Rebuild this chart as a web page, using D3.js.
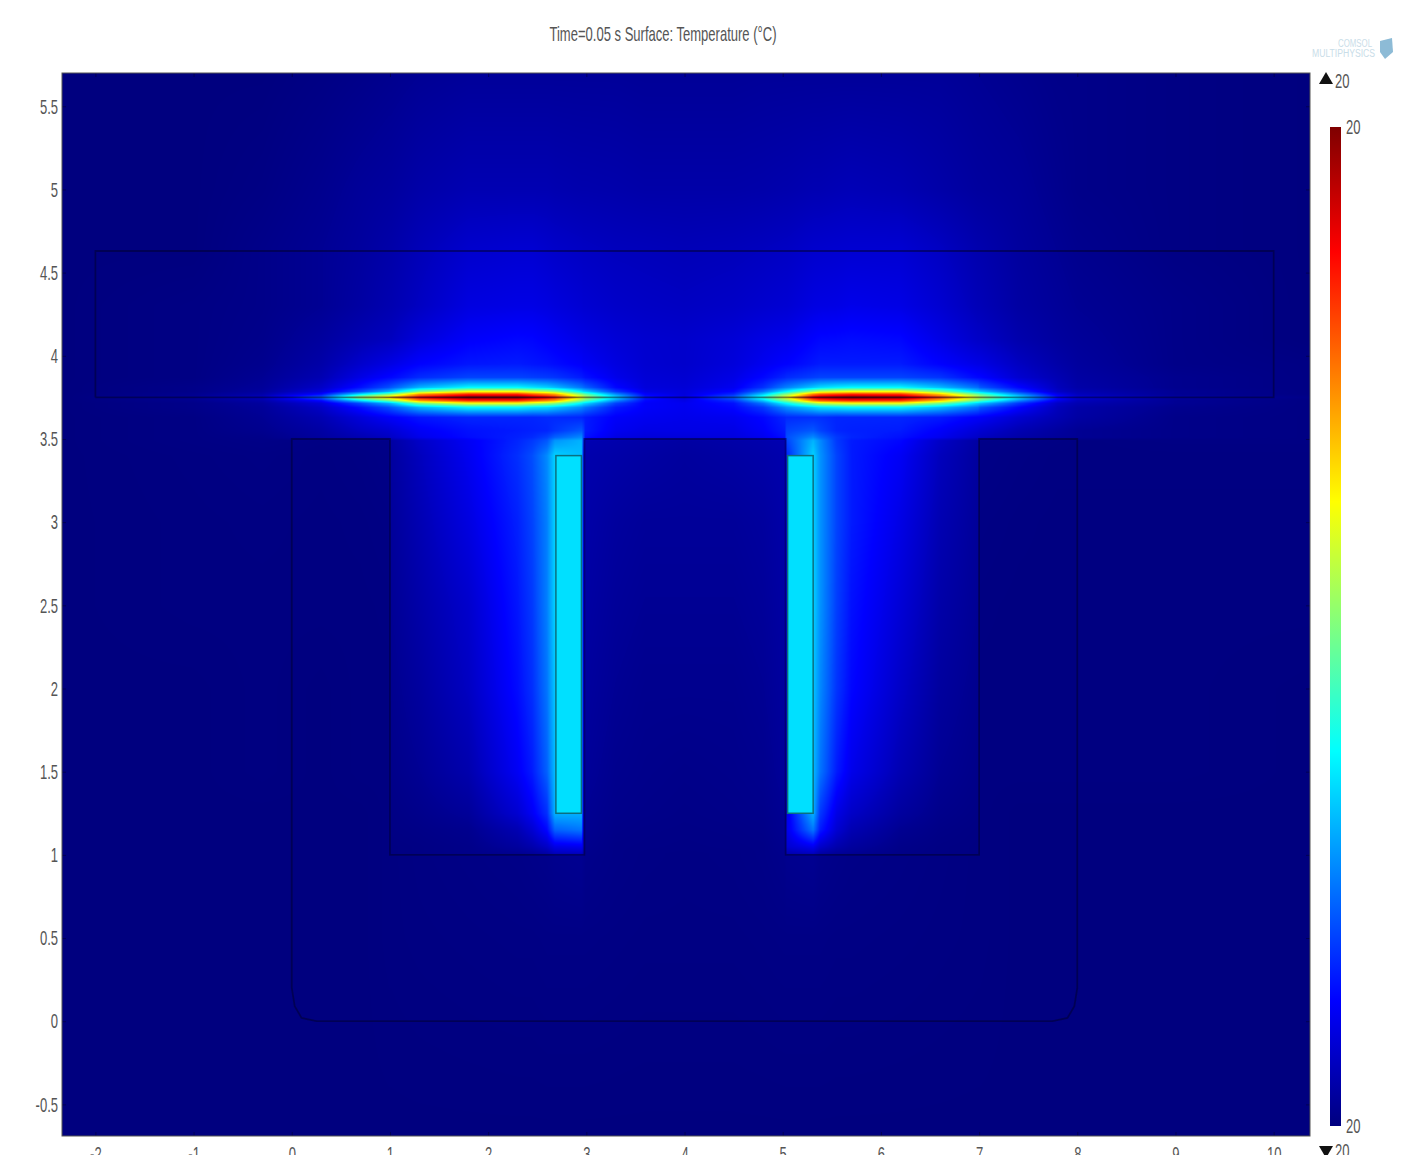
<!DOCTYPE html>
<html>
<head>
<meta charset="utf-8">
<script src="https://cdn.jsdelivr.net/npm/d3@7"></script>
<style>
html, body { margin: 0; padding: 0; background: #fff; overflow: hidden; }
svg { display: block; }
text { font-family: "Liberation Sans", sans-serif; }
</style>
</head>
<body>
<div id="chart"></div>
<script>
// Chart values
const titleText = "Time=0.05 s Surface: Temperature (°C)";
const xTicks = [-2, -1, 0, 1, 2, 3, 4, 5, 6, 7, 8, 9, 10];
const yTicks = [-0.5, 0, 0.5, 1, 1.5, 2, 2.5, 3, 3.5, 4, 4.5, 5, 5.5];
const xExtent = [-2.34, 10.37];
const yExtent = [-0.69, 5.7];

// Geometry in model units
const yokeOutline = [[0.25, 0], [7.75, 0], [7.9, 0.02], [7.97, 0.09], [8, 0.2], [8, 3.5], [7, 3.5], [7, 1], [5.03, 1], [5.03, 3.5],
    [2.98, 3.5], [2.98, 1], [1, 1], [1, 3.5], [0, 3.5], [0, 0.2], [0.03, 0.09], [0.1, 0.02], [0.25, 0]];
const barOutline = [[-2, 3.75], [10, 3.75], [10, 4.63], [-2, 4.63], [-2, 3.75]];
const coilRects = [[2.69, 1.25, 2.95, 3.4], [5.05, 1.25, 5.31, 3.4]];

// Colour table, position along the range in percent
const colorPositions = [0, 12.5, 37.5, 62.5, 87.5, 100];
const colorValues = ["#00007f", "#0000ff", "#00ffff", "#ffff00", "#ff0000", "#7f0000"];
const colorbarTicks = [0, 100];
const coilLevel = 34.5;

// Surface, percent of the colour range
const fieldX = [-2.34, -1, -0.3, 0.3, 0.7, 0.99, 1.01, 1.3, 1.8, 2.3, 2.45, 2.6, 2.68, 2.95, 2.97, 2.99, 3.3, 3.6, 4, 4.5, 4.8, 5.02, 5.04, 5.31, 5.38, 5.55, 5.7, 6.2, 6.6, 6.99, 7.01, 7.4, 7.8, 8, 9, 10.37];
const fieldY = [5.7, 5, 4.65, 4.3, 4.1, 3.95, 3.87, 3.81, 3.785, 3.77, 3.75, 3.73, 3.715, 3.69, 3.63, 3.55, 3.51, 3.49, 3.4, 3, 2.5, 2, 1.5, 1.25, 1.15, 1.05, 1.01, 0.99, 0.5, -0.69];
const fieldValues = [
    [0,0,0,.5,1,1.5,1.5,2,2.5,2.5,2.5,2.5,2.5,2.5,2.5,2.5,2.5,2.3,2.3,2.3,2.5,2.5,2.5,2.5,2.5,2.5,2.5,2.5,2.5,2,2,1.5,1,1,.5,0],
    [0,0,.5,1.5,2.5,3,3,4,5,5,5,5,4.8,4.5,4.5,4.5,4.3,4,4,4,4.2,4.5,4.5,5,5,5.3,5.5,5,4,3,3,2.5,1.5,1,.5,0],
    [0,0,1,2,3,4,4,5.5,7.5,8,8,7.5,7.2,6.6,6.5,6.5,6,5.8,5.5,5.8,6.2,6.6,6.6,7.5,7.6,7.8,8,8,6.5,4.5,4.5,3,2,1.5,.5,0],
    [0,.5,1,2,3.5,4.8,4.8,6.5,9.5,10,10,9.6,9.2,8.2,8,8,7.2,6.8,6.5,7,7.7,8.2,8.2,9.6,9.8,10,10.5,10,8,5.5,5.5,3.5,2.5,2,1,0],
    [0,.5,1.2,3,5,6.2,6.2,9,12,13,12.8,12,11.5,10,10,9.8,8.5,7.8,7.5,8.5,9.8,10.5,10.5,12.5,13,13.2,13.5,13,10,7,7,4.5,3,2.5,1,0],
    [0,.5,1.5,4,7.5,9.8,10,12.5,14.5,15,14.5,14,13.5,12,11.5,11.5,9.5,8,7.5,9,11,12.5,12.5,14.5,15,15,15,15,12.5,10,10,6.5,4,3,1,.5],
    [0,.5,2,5,10,13,13,16.5,19,19,18.5,18,17.5,15,14.5,14,10.5,8.5,8,10,13,16,16.5,18.5,19,19,19,19,17.5,13,13,8,5,3.5,1.5,.5],
    [0,1,2.5,7,14,20,21,30,37,37,35,33,31,24,23,22,13,9,8.5,11,17,24.5,25,32,34,36,37,37,31,23,21,13,6,4,1.5,.5],
    [0,1,3,9,20,30,31,50,62,62,58,55,52,36,34,33,18,10,9,13,24,36,37,53,57,60,62,62,50,33,32,18,7,5,2,.5],
    [0,1.5,4,13,34,48,50,72,83,83,78,74,71,50,48,46,26,12,9,16,32,49,50,74,78,81,83,82,68,47,45,26,10,6,2,.5],
    [0,2,6,22,55,68,70,88,100,100,95,90,86,62,60,57,35,15,10,22,42,61,62,90,94,98,100,98,82,58,56,36,14,8,3,1],
    [0,1.5,4,13,34,48,50,72,83,83,78,74,71,50,48,46,26,13,10,17,32,49,50,74,78,81,83,82,68,47,45,26,10,6,2,.5],
    [0,1,3,9,20,30,31,50,62,62,58,55,52,37,35,34,19,12,11,14,24,37,38,53,57,60,62,62,50,33,32,18,7,5,2,.5],
    [0,1,2.5,7,14,20,21,30,37,37,35,34,32,26,25,24,15,12,11,13,18,26,27,33,35,36,37,37,31,23,21,13,6,4,1.5,.5],
    [0,.5,2,5,9,12,12,14.5,16,16,16,16.5,16.5,16,15.5,15,12,11,10.5,11,13,16,16.5,17,17,16,16,16,15,12,12,8,5,3.5,1,.5],
    [0,.5,1.5,3.5,6.5,8,8.5,11.5,14,15,15.5,16,17.5,21,19,15,11,10,10,10,12,15,19,21,19,16,15.5,15,12,8.5,8,5,3,2,1,.5],
    [0,.5,1,3,5,6.5,7,10.5,13.5,15.5,16.5,19,22,26,20,14,10,9,9,9.5,11,14,20,26,23,18,16,14,11,7,6.5,4,2.5,2,1,.5],
    [0,.5,.8,.5,.8,1,3.5,7,11.5,16,18,21,27,30,19,5,4.5,4,3.5,4,4.5,5,19,30,26,18,15,13,7,3.5,1,.8,.5,.3,.5,.5],
    [0,.3,.5,.3,.5,.8,3,6,11,17,20,26,33,31,16,4.5,4,3.5,3,3.5,4,4.5,16,33,27,19,15,11.5,6,3,.8,.5,.3,.3,.3,.3],
    [0,.2,.3,.2,.3,.5,2.5,5,9.5,15.5,19,25,33,31,14,4,3,2.5,2.5,2.5,3,4,14,33,27,19,15,10,5,2.5,.5,.3,.2,.2,.2,.2],
    [0,.2,.2,.2,.2,.3,2,4,7.5,14.5,18,25,33,31,13,3.5,2.5,2,2,2,2.5,3.5,13,33,27,18.5,14,8.5,4,2,.3,.2,.2,.2,.2,.2],
    [0,0,.2,0,.2,.2,1.5,3,6.5,13.5,17,24,32,31,12,3,2,1.5,1.5,1.5,2,3,12,32,26,17.5,13,7,3,1.5,.2,.2,.2,.2,.2,0],
    [0,0,.2,0,.2,.2,1,2,4.5,11.5,15,22,31,30,11,2.5,1.5,1.2,1,1.2,1.5,2.5,11,31,24,15,10.5,5,2,1,.2,.2,.2,.2,.2,0],
    [0,0,0,0,0,.2,.6,1.2,2.5,8,11.5,17,30,30,10,2,1.2,1,.8,1,1.2,2,10,30,18,10,7,3,1.2,.6,.2,0,0,0,0,0],
    [0,0,0,0,0,.2,.5,.8,1.5,5,8,13,22,24,10,1.8,1,.8,.7,.8,1,1.8,10,24,15,8,5,1.8,.8,.4,.2,0,0,0,0,0],
    [0,0,0,0,0,.2,.3,.5,1,3,4.5,7,10,11,8,1.5,.8,.7,.6,.7,.8,1.5,8,11,7.5,4.5,3,1,.5,.3,.2,0,0,0,0,0],
    [0,0,0,0,0,.2,.3,.5,1,1.8,2.5,4,6,6.5,5,1.3,.8,.6,.5,.6,.8,1.3,5,6.5,4,2.5,2,.8,.5,.3,.2,0,0,0,0,0],
    [0,0,0,0,0,.2,.2,.4,.6,.8,1,1.2,1.5,1.8,1.5,1.2,.8,.6,.5,.6,.8,1.2,1.5,1.8,1.3,1,.8,.6,.4,.2,.2,0,0,0,0,0],
    [0,0,0,0,0,.2,.2,.3,.4,.5,.5,.6,.6,.6,.6,.6,.5,.4,.4,.4,.5,.6,.6,.6,.6,.5,.5,.4,.3,.2,.2,0,0,0,0,0],
    [0,0,0,0,0,0,0,0,0,0,0,0,0,0,0,0,0,0,0,0,0,0,0,0,0,0,0,0,0,0,0,0,0,0,0,0]
];

function draw() {
    // Dimensions
    const dimensions = { width: 1424, height: 1155, left: 62, right: 1310, top: 73, bottom: 1136 };
    const bar = { left: 1330, right: 1341, top: 127, bottom: 1126 };
    const textColor = "#555";

    const svg = d3.select("#chart")
        .append("svg")
        .attr("width", dimensions.width)
        .attr("height", dimensions.height);

    // The reference lettering is tall and condensed, squeeze the glyphs
    const squeeze = selection => selection.each(function() {
        d3.select(this)
            .attr("textLength", this.getComputedTextLength() * 0.62)
            .attr("lengthAdjust", "spacingAndGlyphs");
    });

    // Scales
    const xScale = d3.scaleLinear().domain(xExtent).range([dimensions.left, dimensions.right]);
    const yScale = d3.scaleLinear().domain(yExtent).range([dimensions.bottom, dimensions.top]);
    const colorScale = d3.scaleLinear().domain(colorPositions).range(colorValues).clamp(true);
    const barScale = d3.scaleLinear().domain([0, 100]).range([bar.bottom, bar.top]);

    // Surface goes to an offscreen canvas, one pixel per screen pixel
    const plotW = dimensions.right - dimensions.left;
    const plotH = dimensions.bottom - dimensions.top;
    const canvas = document.createElement("canvas");
    canvas.width = plotW;
    canvas.height = plotH;
    const ctx = canvas.getContext("2d");
    const image = ctx.createImageData(plotW, plotH);

    const lut = d3.range(0, 1001).map(i => d3.rgb(colorScale(i / 10)));
    const cols = d3.range(plotW).map(i => {
        const xv = xScale.invert(dimensions.left + i + 0.5);
        const k = Math.min(fieldX.length - 2, Math.max(0, d3.bisectRight(fieldX, xv) - 1));
        return { k, t: (xv - fieldX[k]) / (fieldX[k + 1] - fieldX[k]) };
    });
    const descY = fieldY.map(d => -d);
    for (let j = 0; j < plotH; j++) {
        const yv = yScale.invert(dimensions.top + j + 0.5);
        const r = Math.min(fieldY.length - 2, Math.max(0, d3.bisectRight(descY, -yv) - 1));
        const u = (fieldY[r] - yv) / (fieldY[r] - fieldY[r + 1]);
        const rowA = fieldValues[r];
        const rowB = fieldValues[r + 1];
        for (let i = 0; i < plotW; i++) {
            const { k, t } = cols[i];
            const top = rowA[k] + (rowA[k + 1] - rowA[k]) * t;
            const low = rowB[k] + (rowB[k + 1] - rowB[k]) * t;
            const c = lut[Math.round((top + (low - top) * u) * 10)];
            const p = (j * plotW + i) * 4;
            image.data[p] = c.r;
            image.data[p + 1] = c.g;
            image.data[p + 2] = c.b;
            image.data[p + 3] = 255;
        }
    }
    ctx.putImageData(image, 0, 0);

    svg.append("image")
        .attr("x", dimensions.left)
        .attr("y", dimensions.top)
        .attr("width", plotW)
        .attr("height", plotH)
        .attr("href", canvas.toDataURL("image/png"));

    const defs = svg.append("defs");
    defs.append("filter")
        .attr("id", "soft")
        .append("feGaussianBlur")
        .attr("stdDeviation", 0.6);

    // Coils
    svg.selectAll(".coil")
        .data(coilRects)
        .join("rect")
            .attr("class", "coil")
            .attr("x", d => xScale(d[0]))
            .attr("y", d => yScale(d[3]))
            .attr("width", d => xScale(d[2]) - xScale(d[0]))
            .attr("height", d => yScale(d[1]) - yScale(d[3]))
            .attr("fill", colorScale(coilLevel))
            .attr("stroke", "#0b6f80")
            .attr("stroke-width", 1.5);

    // Model edges
    const line = d3.line().x(d => xScale(d[0])).y(d => yScale(d[1]));
    svg.selectAll(".edge")
        .data([yokeOutline, barOutline])
        .join("path")
            .attr("class", "edge")
            .attr("d", line)
            .attr("fill", "none")
            .attr("stroke", "#00002e")
            .attr("stroke-opacity", 0.5)
            .attr("stroke-width", 1.8)
            .attr("filter", "url(#soft)");

    // Axes
    const styleAxis = g => {
        g.select(".domain").remove();
        g.selectAll(".tick line").attr("stroke", "#00002e").attr("stroke-opacity", 0.5);
        g.selectAll(".tick text")
            .attr("fill", textColor)
            .attr("font-size", 21)
            .attr("font-family", null)
            .call(squeeze);
    };
    svg.append("g")
        .attr("transform", `translate(0, ${dimensions.bottom})`)
        .call(d3.axisBottom(xScale).tickValues(xTicks).tickFormat(d => d).tickSize(-4).tickPadding(10))
        .call(styleAxis);
    svg.append("g")
        .attr("transform", `translate(${dimensions.left}, 0)`)
        .call(d3.axisLeft(yScale).tickValues(yTicks).tickFormat(d => d).tickSize(-4).tickPadding(4))
        .call(styleAxis);
    svg.append("g")
        .attr("transform", `translate(0, ${dimensions.top})`)
        .call(d3.axisTop(xScale).tickValues(xTicks).tickFormat(() => "").tickSize(-4))
        .call(g => { g.select(".domain").remove(); g.selectAll(".tick line").attr("stroke", "#00002e").attr("stroke-opacity", 0.5); });
    svg.append("g")
        .attr("transform", `translate(${dimensions.right}, 0)`)
        .call(d3.axisRight(yScale).tickValues(yTicks).tickFormat(() => "").tickSize(-4))
        .call(g => { g.select(".domain").remove(); g.selectAll(".tick line").attr("stroke", "#00002e").attr("stroke-opacity", 0.5); });

    svg.append("rect")
        .attr("x", dimensions.left)
        .attr("y", dimensions.top)
        .attr("width", plotW)
        .attr("height", plotH)
        .attr("fill", "none")
        .attr("stroke", "#555")
        .attr("stroke-width", 1);

    // Title
    svg.append("text")
        .attr("x", 663)
        .attr("y", 41)
        .attr("text-anchor", "middle")
        .attr("font-size", 21)
        .attr("fill", textColor)
        .text(titleText)
        .call(squeeze);

    // Colour bar
    const gradient = defs.append("linearGradient")
        .attr("id", "bar-gradient")
        .attr("x1", 0).attr("x2", 0).attr("y1", 1).attr("y2", 0);
    gradient.selectAll("stop")
        .data(colorPositions)
        .join("stop")
            .attr("offset", d => d + "%")
            .attr("stop-color", d => colorScale(d));

    svg.append("rect")
        .attr("x", bar.left)
        .attr("y", bar.top)
        .attr("width", bar.right - bar.left)
        .attr("height", bar.bottom - bar.top)
        .attr("fill", "url(#bar-gradient)");

    svg.append("g")
        .attr("transform", `translate(${bar.right}, 0)`)
        .call(d3.axisRight(barScale).tickValues(colorbarTicks).tickFormat(() => "20").tickSize(0).tickPadding(5))
        .call(styleAxis);

    // Max and min markers
    const triangle = d3.symbol().type(d3.symbolTriangle).size(85);
    const markers = [{ y: 80, flip: 1 }, { y: 1150, flip: -1 }];
    svg.selectAll(".marker")
        .data(markers)
        .join("path")
            .attr("class", "marker")
            .attr("d", triangle)
            .attr("transform", d => `translate(1326, ${d.y}) scale(1, ${d.flip})`)
            .attr("fill", "#111");
    svg.selectAll(".marker-label")
        .data(markers)
        .join("text")
            .attr("class", "marker-label")
            .attr("x", 1335)
            .attr("y", d => d.y + 8)
            .attr("font-size", 21)
            .attr("fill", textColor)
            .text("20")
            .call(squeeze);

    // Logo
    const logo = svg.append("g").attr("fill", "#c9dde8").attr("text-anchor", "end").attr("font-size", 10);
    logo.append("text").attr("x", 1372).attr("y", 47).attr("textLength", 34).attr("lengthAdjust", "spacingAndGlyphs").text("COMSOL");
    logo.append("text").attr("x", 1375).attr("y", 57).attr("textLength", 63).attr("lengthAdjust", "spacingAndGlyphs").text("MULTIPHYSICS");
    svg.append("path")
        .attr("d", d3.line()([[1380, 41], [1392, 38], [1393, 52], [1385, 59], [1380, 52]]))
        .attr("fill", "#8dbbd6");
}

draw();
</script>
</body>
</html>
